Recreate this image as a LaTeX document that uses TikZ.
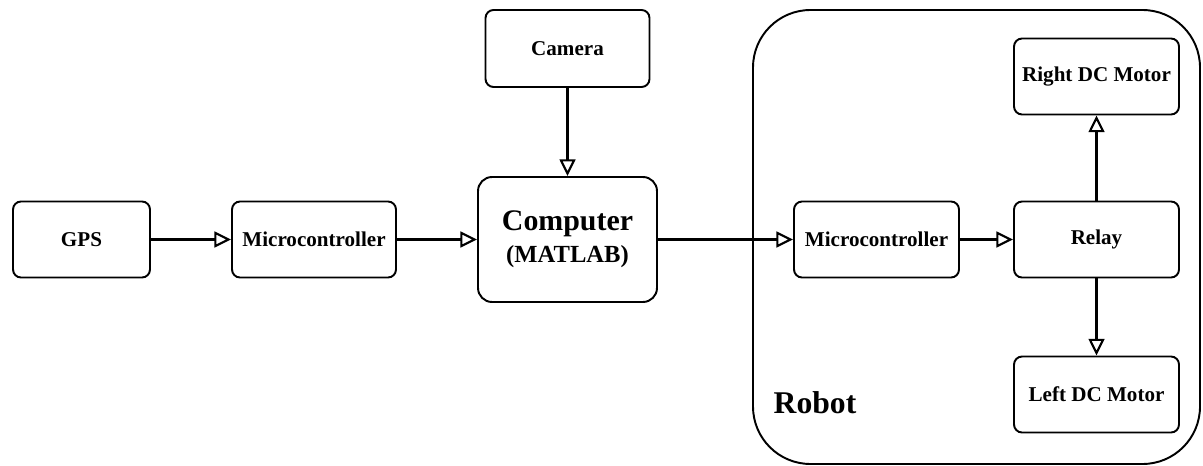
\documentclass[tikz,border=0pt]{standalone}
\usepackage{fontspec}
\setmainfont{Liberation Serif}
\usetikzlibrary{positioning,arrows.meta}
\tikzstyle{block} = [
    rectangle,
    draw,
    line width = 1.1pt,
    rounded corners = 0.16cm,
    text centered,
    inner sep = 0pt,
    font = \bfseries\fontsize{12}{14}\selectfont,
    minimum width = 3.3cm,
    minimum height = 1.52cm
]
\tikzstyle{link} = [
    draw,
    line width = 1.2pt,
    -{Triangle[open, length = 9.5pt, width = 9pt, line width = 1.2pt]}
]

\begin{document}
\begin{tikzpicture}[x = 0.02cm, y = -0.02cm]
    \useasboundingbox (0,0) rectangle (1203,466);
    % robot enclosure
    \draw[line width = 1.1pt, rounded corners = 1.15cm] (753,10) rectangle (1200,464);
    \node[font = \bfseries\fontsize{18}{20}\selectfont] (robot) at (815,403) {Robot};

    \node[block, minimum width = 2.74cm] (gps) at (81.5,239.5) {GPS};
    \node[block, minimum width = 3.28cm] (mcuA) at (314,239.5) {Microcontroller};
    \node[block, minimum width = 3.28cm, minimum height = 1.54cm] (camera) at (567.5,48.5) {Camera};
    \node[block, minimum width = 3.58cm, minimum height = 2.5cm,
          rounded corners = 0.28cm, align = center] (computer) at (567.5,239.5)
        {\fontsize{17}{19}\selectfont Computer\\[4pt]
         \fontsize{14}{16}\selectfont (MATLAB)};

    \node[block] (mcuB) at (876.5,239.5) {Microcontroller};
    \node[block] (relay) at (1096.5,239.5) {Relay};
    \node[block] (rightmotor) at (1096.5,76.5) {Right DC Motor};
    \node[block] (leftmotor) at (1096.5,394.5) {Left DC Motor};

    \draw[link] (gps) -- (mcuA);
    \draw[link] (mcuA) -- (computer);
    \draw[link] (camera) -- (computer);
    \draw[link] (computer) -- (mcuB);
    \draw[link] (mcuB) -- (relay);
    \draw[link] (relay) -- (rightmotor);
    \draw[link] (relay) -- (leftmotor);
\end{tikzpicture}
\end{document}
